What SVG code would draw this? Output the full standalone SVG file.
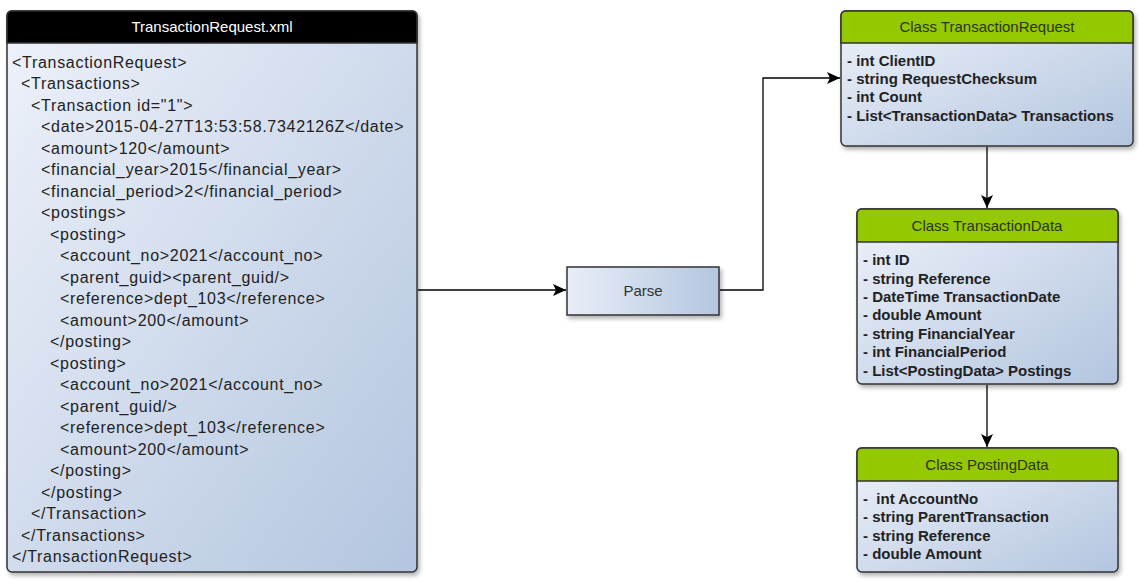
<svg xmlns="http://www.w3.org/2000/svg" width="1139" height="582" viewBox="0 0 1139 582">
<defs>
<linearGradient id="bodyGrad" x1="0" y1="0" x2="1" y2="1">
<stop offset="0" stop-color="#eef2fa"/>
<stop offset="1" stop-color="#b3c5df"/>
</linearGradient>
<linearGradient id="parseGrad" x1="0" y1="0" x2="1" y2="0">
<stop offset="0" stop-color="#e8eef8"/>
<stop offset="1" stop-color="#b4c6e0"/>
</linearGradient>
<filter id="shadow" x="-10%" y="-10%" width="125%" height="125%">
<feDropShadow dx="2" dy="3" stdDeviation="2" flood-color="#000" flood-opacity="0.3"/>
</filter>
<marker id="arrow" markerWidth="14" markerHeight="12" refX="13" refY="6" orient="auto" markerUnits="userSpaceOnUse">
<path d="M0,0 L13,6 L0,12 L3,6 Z" fill="#000"/>
</marker>
</defs>
<style>
.box{stroke:#333;stroke-width:1.5;fill:url(#bodyGrad)}
.xml{font-family:"Liberation Sans",Arial,sans-serif;font-size:16px;letter-spacing:0.7px;fill:#222}
.hdr{font-family:"Liberation Sans",Arial,sans-serif;font-size:15px;text-anchor:middle}
.mem{font-family:"Liberation Sans",Arial,sans-serif;font-size:15px;font-weight:bold;fill:#222}
.green{fill:#94c800;stroke:#333;stroke-width:1.5}
.conn{fill:none;stroke:#000;stroke-width:1.3;marker-end:url(#arrow)}
</style>

<g id="xml-file">
<rect x="7" y="11" width="410" height="561" rx="5" class="box" filter="url(#shadow)"/>
<path d="M7,43 L7,16 Q7,11 12,11 L412,11 Q417,11 417,16 L417,43 Z" fill="#000" stroke="#333" stroke-width="1.5"/>
<text x="212" y="32" class="hdr" fill="#fff">TransactionRequest.xml</text>
<text class="xml" xml:space="preserve">
<tspan x="12" y="67.7">&lt;TransactionRequest&gt;</tspan>
<tspan x="21" y="89.2">&lt;Transactions&gt;</tspan>
<tspan x="31" y="110.7">&lt;Transaction id="1"&gt;</tspan>
<tspan x="41" y="132.2">&lt;date&gt;2015-04-27T13:53:58.7342126Z&lt;/date&gt;</tspan>
<tspan x="41" y="153.7">&lt;amount&gt;120&lt;/amount&gt;</tspan>
<tspan x="41" y="175.2">&lt;financial_year&gt;2015&lt;/financial_year&gt;</tspan>
<tspan x="41" y="196.7">&lt;financial_period&gt;2&lt;/financial_period&gt;</tspan>
<tspan x="41" y="218.2">&lt;postings&gt;</tspan>
<tspan x="50" y="239.7">&lt;posting&gt;</tspan>
<tspan x="60" y="261.2">&lt;account_no&gt;2021&lt;/account_no&gt;</tspan>
<tspan x="60" y="282.7">&lt;parent_guid&gt;&lt;parent_guid/&gt;</tspan>
<tspan x="60" y="304.2">&lt;reference&gt;dept_103&lt;/reference&gt;</tspan>
<tspan x="60" y="325.7">&lt;amount&gt;200&lt;/amount&gt;</tspan>
<tspan x="50" y="347.2">&lt;/posting&gt;</tspan>
<tspan x="50" y="368.7">&lt;posting&gt;</tspan>
<tspan x="60" y="390.2">&lt;account_no&gt;2021&lt;/account_no&gt;</tspan>
<tspan x="60" y="411.7">&lt;parent_guid/&gt;</tspan>
<tspan x="60" y="433.2">&lt;reference&gt;dept_103&lt;/reference&gt;</tspan>
<tspan x="60" y="454.7">&lt;amount&gt;200&lt;/amount&gt;</tspan>
<tspan x="50" y="476.2">&lt;/posting&gt;</tspan>
<tspan x="41" y="497.7">&lt;/posting&gt;</tspan>
<tspan x="31" y="519.2">&lt;/Transaction&gt;</tspan>
<tspan x="21" y="540.7">&lt;/Transactions&gt;</tspan>
<tspan x="12" y="562.2">&lt;/TransactionRequest&gt;</tspan>
</text>
</g>

<g id="parse">
<rect x="567" y="267" width="152" height="48" fill="url(#parseGrad)" stroke="#333" stroke-width="1.5" filter="url(#shadow)"/>
<text x="643" y="296" class="hdr" fill="#333">Parse</text>
</g>

<g id="class-transaction-request">
<rect x="841" y="11" width="292" height="135" rx="5" class="box" filter="url(#shadow)"/>
<path d="M841,43 L841,16 Q841,11 846,11 L1128,11 Q1133,11 1133,16 L1133,43 Z" class="green"/>
<text x="987" y="32" class="hdr" fill="#2b3318">Class TransactionRequest</text>
<text class="mem">
<tspan x="847" y="65.7">- int ClientID</tspan>
<tspan x="847" y="84">- string RequestChecksum</tspan>
<tspan x="847" y="102.3">- int Count</tspan>
<tspan x="847" y="120.6">- List&lt;TransactionData&gt; Transactions</tspan>
</text>
</g>

<g id="class-transaction-data">
<rect x="857" y="209" width="261" height="175" rx="5" class="box" filter="url(#shadow)"/>
<path d="M857,242 L857,214 Q857,209 862,209 L1113,209 Q1118,209 1118,214 L1118,242 Z" class="green"/>
<text x="987" y="231" class="hdr" fill="#2b3318">Class TransactionData</text>
<text class="mem">
<tspan x="863" y="265">- int ID</tspan>
<tspan x="863" y="283.5">- string Reference</tspan>
<tspan x="863" y="301.9">- DateTime TransactionDate</tspan>
<tspan x="863" y="320.4">- double Amount</tspan>
<tspan x="863" y="338.8">- string FinancialYear</tspan>
<tspan x="863" y="357.3">- int FinancialPeriod</tspan>
<tspan x="863" y="375.7">- List&lt;PostingData&gt; Postings</tspan>
</text>
</g>

<g id="class-posting-data">
<rect x="857" y="448" width="261" height="124" rx="5" class="box" filter="url(#shadow)"/>
<path d="M857,481 L857,453 Q857,448 862,448 L1113,448 Q1118,448 1118,453 L1118,481 Z" class="green"/>
<text x="987" y="470" class="hdr" fill="#2b3318">Class PostingData</text>
<text class="mem" xml:space="preserve">
<tspan x="863" y="504">-  int AccountNo</tspan>
<tspan x="863" y="522.4">- string ParentTransaction</tspan>
<tspan x="863" y="540.9">- string Reference</tspan>
<tspan x="863" y="559.3">- double Amount</tspan>
</text>
</g>

<g id="connectors">
<path d="M418,290 L566,290" class="conn"/>
<path d="M720,290 L763,290 L763,78 L840,78" class="conn"/>
<path d="M987,147 L987,208" class="conn"/>
<path d="M987,385 L987,447" class="conn"/>
</g>
</svg>
